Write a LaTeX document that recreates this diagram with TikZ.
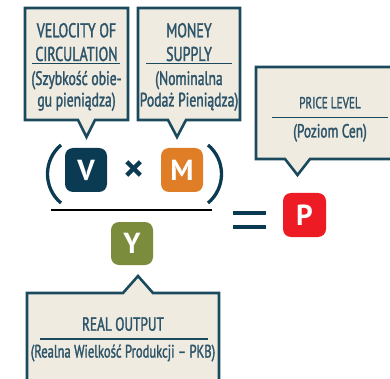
\documentclass[tikz,border=0pt]{standalone}
\usepackage{fontspec}
\setmainfont[FakeStretch=0.7, FakeBold=1.6]{PT Sans}
\newfontfamily\letterfont{PT Sans}
\definecolor{beige}{HTML}{EFEBE1}
\definecolor{bordc}{HTML}{1B4A5E}
\definecolor{txtc}{HTML}{2D5468}
\definecolor{vcol}{HTML}{0B3B52}
\definecolor{mcol}{HTML}{E07E27}
\definecolor{ycol}{HTML}{7B8C3C}
\definecolor{pcol}{HTML}{ED1C24}
\tikzset{
  callout/.style={draw=bordc, fill=beige, line width=2.6pt, line join=miter},
  divline/.style={draw=bordc, line width=1.2pt},
  ctext/.style={text=txtc, anchor=base, inner sep=0pt},
  letterbox/.style={rounded corners=8pt},
  letter/.style={text=white, font=\letterfont\bfseries\fontsize{29}{29}\selectfont, inner sep=0pt},
}
\begin{document}
\begin{tikzpicture}[x=1pt,y=-1pt]
\clip (0,0) rectangle (390,379);
\fill[white] (0,0) rectangle (390,379);
% callout: velocity
\path[callout] (25,8) -- (128,8) -- (128,120) -- (95,120) -- (86.5,137) -- (78,120) -- (25,120) -- cycle;
\node[ctext, font=\fontsize{20}{20}\selectfont] (vl1) at (76.5,37.3) {VELOCITY OF};
\node[ctext, font=\fontsize{20}{20}\selectfont] (vl2) at (76.5,61) {CIRCULATION};
\draw[divline] (32,63.5) -- (120,63.5);
\node[ctext, font=\fontsize{19.5}{19.5}\selectfont] (vl3) at (76.5,85) {(Szybkość obie-};
\node[ctext, font=\fontsize{19.5}{19.5}\selectfont] (vl4) at (76.5,106.5) {gu pieniądza)};
% callout: money
\path[callout] (138,8) -- (240,8) -- (240,120) -- (186,120) -- (177,137) -- (168,120) -- (138,120) -- cycle;
\node[ctext, font=\fontsize{20}{20}\selectfont] (ml1) at (189,37.3) {MONEY};
\node[ctext, font=\fontsize{20}{20}\selectfont] (ml2) at (189,61) {SUPPLY};
\draw[divline] (146,63.5) -- (232,63.5);
\node[ctext, font=\fontsize{19.5}{19.5}\selectfont] (ml3) at (189,85) {(Nominalna};
\node[ctext, font=\fontsize{19.5}{19.5}\selectfont] (ml4) at (189,106.5) {Podaż Pieniądza)};
% callout: price level
\path[callout] (256,67) -- (404,67) -- (404,159) -- (310,159) -- (297.5,175) -- (285,159) -- (256,159) -- cycle;
\node[ctext, font=\fontsize{16}{16}\selectfont] (pl1) at (330,108.3) {PRICE LEVEL};
\draw[divline] (272,117.3) -- (388,117.3);
\node[ctext, font=\fontsize{19}{19}\selectfont] (pl2) at (330,137.5) {(Poziom Cen)};
% callout: real output
\path[callout] (27,293) -- (123,293) -- (138,276) -- (153,293) -- (219,293) -- (219,395) -- (27,395) -- cycle;
\node[ctext, font=\fontsize{19}{19}\selectfont] (rl1) at (123,330.7) {REAL OUTPUT};
\draw[divline] (40,339) -- (208,339);
\node[ctext, font=\fontsize{18}{18}\selectfont] (rl2) at (123,357.5) {(Realna Wielkość Produkcji – PKB)};
% letter boxes
\fill[vcol, letterbox] (65,148) rectangle (107,192);
\node[letter] (V) at (86,170) {V};
\fill[mcol, letterbox] (161,148) rectangle (203,192);
\node[letter] (M) at (182,170) {M};
\fill[ycol, letterbox] (111,222) rectangle (153,265);
\node[letter] (Y) at (132,243.5) {Y};
\fill[pcol, letterbox] (283,193) rectangle (326,237);
\node[letter] (P) at (304.5,215) {P};
% operator
\node[text=vcol, inner sep=0pt, font=\letterfont\bfseries\fontsize{40}{40}\selectfont] (times) at (134.5,172) {×};
% parentheses
\draw[vcol, line width=3.3pt] (61,145) .. controls (43,160) and (43,188) .. (61,203);
\draw[vcol, line width=3.3pt] (208,145) .. controls (226,160) and (226,188) .. (208,203);
% fraction bar
\draw[black, line width=2.6pt] (51,210) -- (212,210);
% equals
\draw[vcol, line width=3.2pt] (233,213) -- (266,213);
\draw[vcol, line width=3.2pt] (233,227) -- (266,227);
\end{tikzpicture}
\end{document}
